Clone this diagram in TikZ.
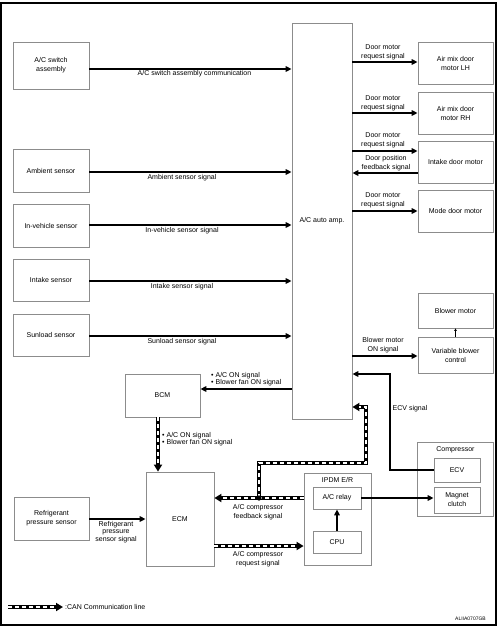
\documentclass[tikz,border=0pt]{standalone}
\usepackage{fontspec}
\setmainfont{Liberation Sans}
\usetikzlibrary{arrows.meta}
\begin{document}
\begin{tikzpicture}[x=1pt,y=-1pt,
  box/.style={draw=black!45, line width=0.8pt, align=center, inner sep=0pt, font=\fontsize{7}{9}\selectfont},
  lbl/.style={align=center, inner sep=0pt, font=\fontsize{7}{9.3}\selectfont},
  blist/.style={align=left, inner sep=0pt, anchor=west, font=\fontsize{7}{7.2}\selectfont},
  sig/.style={line width=1.6pt, -{Triangle[length=6pt,width=5.5pt]}},
  thin/.style={line width=0.6pt, -{Triangle[length=2.5pt,width=2.5pt]}},
  can/.style={line width=3.8pt, draw=black, -{Triangle[length=7pt,width=8pt]},
    postaction={draw=white, line width=1.6pt, dash pattern=on 4pt off 3pt, -, shorten >=7pt}}
]
\useasboundingbox (0,0) rectangle (501,629);
\draw[line width=1.5pt] (1.2,3.2) rectangle (495.8,624.8);

% left boxes
\node[box, minimum width=76pt, minimum height=47pt] (sw) at (51,65.5) {A/C switch\\assembly};
\node[box, minimum width=76pt, minimum height=43pt] (amb) at (51,170.5) {Ambient sensor};
\node[box, minimum width=76pt, minimum height=43pt] (inv) at (51,225.5) {In-vehicle sensor};
\node[box, minimum width=76pt, minimum height=42pt] (intk) at (51,280) {Intake sensor};
\node[box, minimum width=76pt, minimum height=42pt] (sun) at (51,335) {Sunload sensor};
\node[box, minimum width=75pt, minimum height=43pt] (bcm) at (162.5,395.5) {BCM};
\node[box, minimum width=75pt, minimum height=43pt] (rps) at (51.5,518.5) {Refrigerant\\pressure sensor};
\node[box, minimum width=68pt, minimum height=94pt] (ecm) at (180,519) {ECM};

% amp
\node[box, minimum width=60pt, minimum height=396pt] (amp) at (322,221) {A/C auto amp.};

% right boxes
\node[box, minimum width=75pt, minimum height=42pt] (lh) at (455.5,63) {Air mix door\\motor LH};
\node[box, minimum width=75pt, minimum height=42pt] (rh) at (455.5,113) {Air mix door\\motor RH};
\node[box, minimum width=75pt, minimum height=42pt] (idm) at (455.5,162) {Intake door motor};
\node[box, minimum width=75pt, minimum height=42pt] (mdm) at (455.5,211) {Mode door motor};
\node[box, minimum width=75pt, minimum height=35pt] (blm) at (455.5,310.5) {Blower motor};
\node[box, minimum width=75pt, minimum height=36pt] (vbc) at (455.5,355) {Variable blower\\control};

% compressor
\node[box, minimum width=76pt, minimum height=74pt] (comp) at (455,479) {};
\node[lbl] (compt) at (455.5,450) {Compressor};
\node[box, minimum width=46pt, minimum height=24pt] (ecv) at (457,470) {ECV};
\node[box, minimum width=46pt, minimum height=26pt] (mc) at (457,500) {Magnet\\clutch};

% IPDM
\node[box, minimum width=67pt, minimum height=92pt] (ipdm) at (337.5,519) {};
\node[lbl] (ipdmt) at (337.5,480) {IPDM E/R};
\node[box, minimum width=48pt, minimum height=22pt] (rly) at (337,498) {A/C relay};
\node[box, minimum width=48pt, minimum height=22pt] (cpu) at (337,542) {CPU};

% sensor signals
\draw[sig] (sw.east |- 0,69) -- (amp.west |- 0,69);
\node[lbl] (l-sw) at (194.5,73.5) {A/C switch assembly communication};
\draw[sig] (amb.east |- 0,172) -- (amp.west |- 0,172);
\node[lbl] (l-amb) at (182,177.5) {Ambient sensor signal};
\draw[sig] (inv.east |- 0,225) -- (amp.west |- 0,225);
\node[lbl] (l-inv) at (182,230.5) {In-vehicle sensor signal};
\draw[sig] (intk.east |- 0,281) -- (amp.west |- 0,281);
\node[lbl] (l-intk) at (182,286.5) {Intake sensor signal};
\draw[sig] (sun.east |- 0,336) -- (amp.west |- 0,336);
\node[lbl] (l-sun) at (182,341.5) {Sunload sensor signal};

% door motors
\draw[sig] (amp.east |- 0,62) -- (lh.west |- 0,62);
\node[lbl] (l-lh) at (383,52) {Door motor\\request signal};
\draw[sig] (amp.east |- 0,113) -- (rh.west |- 0,113);
\node[lbl] (l-rh) at (383,103.5) {Door motor\\request signal};
\draw[sig] (amp.east |- 0,151) -- (idm.west |- 0,151);
\node[lbl] (l-idm) at (383,140.5) {Door motor\\request signal};
\draw[sig] (idm.west |- 0,173) -- (amp.east |- 0,173);
\node[lbl] (l-fb) at (386,163.5) {Door position\\feedback signal};
\draw[sig] (amp.east |- 0,211) -- (mdm.west |- 0,211);
\node[lbl] (l-mdm) at (383,200.5) {Door motor\\request signal};

% blower
\draw[sig] (amp.east |- 0,356) -- (vbc.west |- 0,356);
\node[lbl] (l-bl) at (383,345.5) {Blower motor\\ON signal};
\draw[thin] (vbc.north) -- (blm.south);

% ECV signal
\coordinate (e1) at (390,374);
\draw[sig] (ecv.west) -| (e1) -- (amp.east |- e1);
\node[lbl] (l-ecv) at (410,409) {ECV signal};

% BCM
\draw[sig] (amp.west |- 0,389) -- (bcm.east |- 0,389);
\node[blist] (l-bcm) at (211,379.5) {\textbullet\ A/C ON signal\\\textbullet\ Blower fan ON signal};

% relay / clutch / cpu
\draw[sig] (rly.east) -- (mc.west |- rly.east);
\draw[sig] (cpu.north) -- (rly.south);

% refrigerant
\draw[sig] (rps.east |- 0,519) -- (ecm.west |- 0,519);
\node[lbl, font=\fontsize{7}{7.6}\selectfont] (l-rps) at (116,532) {Refrigerant\\pressure\\sensor signal};

% CAN lines
\coordinate (b1) at (158,0);
\draw[can] (bcm.south -| b1) -- (ecm.north -| b1);
\node[blist] (l-bcm2) at (162,439.5) {\textbullet\ A/C ON signal\\\textbullet\ Blower fan ON signal};

\coordinate (j) at (259,498);
\coordinate (c1) at (366,463);
\coordinate (f) at (352,407);
\draw[can] (ipdm.west |- j) -- (ecm.east |- j);
\draw[can] (j) |- (c1) |- (amp.east |- f);
\fill (j) circle (2.6pt);
\node[lbl] (l-fbk) at (258,512.5) {A/C compressor\\feedback signal};

\draw[can] (ecm.east |- 0,546) -- (ipdm.west |- 0,546);
\node[lbl] (l-req) at (258,559.5) {A/C compressor\\request signal};

% legend
\coordinate (g1) at (8,607);
\coordinate (g2) at (63,607);
\draw[can] (g1) -- (g2);
\node[lbl, anchor=west] (l-can) at (65,607) {:CAN Communication line};
\node[lbl, anchor=east, font=\fontsize{5}{6}\selectfont] (code) at (486,619) {ALIIA0707GB};
\end{tikzpicture}
\end{document}
